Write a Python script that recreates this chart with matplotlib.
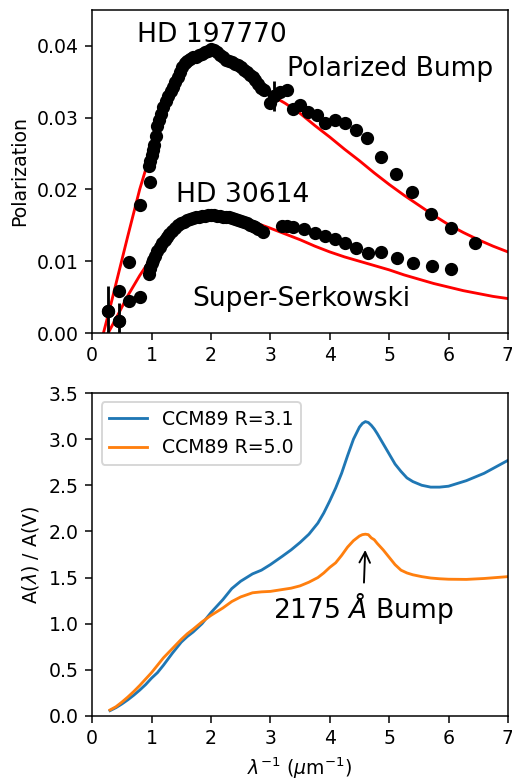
import numpy as np
import matplotlib.pyplot as plt

# HD 197770 polarization (1/lambda in um^-1, fractional polarization)
x_hd197 = [0.26, 0.45, 0.62, 0.80, 0.98,
           0.95, 0.98, 1.00, 1.02, 1.04, 1.07, 1.10, 1.13, 1.16, 1.20, 1.24, 1.28,
           1.32, 1.36, 1.40, 1.44, 1.48, 1.52, 1.56, 1.60, 1.65, 1.70, 1.75, 1.80,
           1.85, 1.90, 1.95, 2.00, 2.05, 2.10, 2.15, 2.20, 2.25, 2.30, 2.35, 2.40,
           2.45, 2.50, 2.55, 2.60, 2.65, 2.70, 2.75, 2.80, 2.85, 2.90,
           3.00, 3.07, 3.17, 3.28, 3.39, 3.50, 3.64, 3.78, 3.92, 4.09, 4.26, 4.44,
           4.63, 4.87, 5.11, 5.39, 5.70, 6.05, 6.45]
p_hd197 = [0.0030, 0.0058, 0.0099, 0.0178, 0.0211,
           0.0232, 0.0240, 0.0248, 0.0255, 0.0262, 0.0275, 0.0288, 0.0297, 0.0305,
           0.0315, 0.0323, 0.0330, 0.0337, 0.0343, 0.0350, 0.0357, 0.0364, 0.0371,
           0.0376, 0.0379, 0.0382, 0.0384, 0.0385, 0.0387, 0.0389, 0.0391, 0.0393,
           0.0396, 0.0394, 0.0391, 0.0387, 0.0384, 0.0381, 0.0379, 0.0377, 0.0375,
           0.0373, 0.0370, 0.0367, 0.0364, 0.0360, 0.0356, 0.0352, 0.0347, 0.0342,
           0.0339,
           0.0320, 0.0330, 0.0336, 0.0339, 0.0312, 0.0318, 0.0308, 0.0304, 0.0292,
           0.0297, 0.0292, 0.0283, 0.0271, 0.0245, 0.0222, 0.0196, 0.0166, 0.0146,
           0.0125]

# HD 30614 polarization
x_hd306 = [0.45, 0.62, 0.80, 0.95, 0.97, 1.00, 1.03, 1.06, 1.10, 1.14, 1.18, 1.22,
           1.26, 1.30, 1.35, 1.40, 1.45, 1.50, 1.55, 1.60, 1.65, 1.70, 1.75, 1.80,
           1.85, 1.90, 1.95, 2.00, 2.05, 2.10, 2.15, 2.20, 2.25, 2.30, 2.35, 2.40,
           2.45, 2.50, 2.55, 2.60, 2.65, 2.70, 2.75, 2.80, 2.87,
           3.20, 3.28, 3.39, 3.56, 3.75, 3.92, 4.09, 4.26, 4.45, 4.65, 4.87, 5.13,
           5.41, 5.72, 6.05]
p_hd306 = [0.0017, 0.0044, 0.0050, 0.0082, 0.0090, 0.0097, 0.0102, 0.0107, 0.0114,
           0.0120, 0.0125, 0.0130, 0.0134, 0.0138, 0.0142, 0.0146, 0.0150, 0.0153,
           0.0155, 0.0157, 0.0159, 0.0160, 0.0161, 0.0162, 0.0163, 0.0163, 0.0164,
           0.0164, 0.0164, 0.0163, 0.0163, 0.0162, 0.0162, 0.0161, 0.0160, 0.0159,
           0.0158, 0.0156, 0.0155, 0.0153, 0.0151, 0.0149, 0.0147, 0.0145, 0.0141,
           0.0149, 0.0149, 0.0148, 0.0145, 0.0139, 0.0135, 0.0131, 0.0125, 0.0119,
           0.0112, 0.0113, 0.0105, 0.0098, 0.0093, 0.0089]

# points with visible error bars
ex_hd197 = [0.26, 3.07]
ep_hd197 = [0.0030, 0.0330]
ee_hd197 = [0.0035, 0.0021]
ex_hd306 = [0.45, 0.97]
ep_hd306 = [0.0017, 0.0090]
ee_hd306 = [0.0025, 0.0013]

# fitted Serkowski curves
x_fit197 = [0.19, 0.30, 0.45, 0.60, 0.80, 1.00, 1.20, 1.40, 1.60, 1.80, 2.00, 2.20,
            2.50, 2.80, 3.00, 3.25, 3.50, 3.75, 4.00, 4.25, 4.50, 4.75, 5.00, 5.25,
            5.50, 5.75, 6.00, 6.25, 6.50, 6.75, 7.00]
p_fit197 = [0.0, 0.0035, 0.0085, 0.0135, 0.0200, 0.0255, 0.0310, 0.0350, 0.0377,
            0.0391, 0.0395, 0.0390, 0.0372, 0.0350, 0.0332, 0.0320, 0.0306, 0.0289,
            0.0273, 0.0256, 0.0240, 0.0223, 0.0207, 0.0192, 0.0178, 0.0164, 0.0151,
            0.0140, 0.0130, 0.0121, 0.0113]
x_fit306 = [0.27, 0.45, 0.60, 0.80, 1.00, 1.20, 1.40, 1.60, 1.80, 2.00, 2.20, 2.50,
            2.80, 3.00, 3.25, 3.50, 3.75, 4.00, 4.25, 4.50, 4.75, 5.00, 5.25, 5.50,
            5.75, 6.00, 6.25, 6.50, 6.75, 7.00]
p_fit306 = [0.0, 0.0028, 0.0052, 0.0080, 0.0105, 0.0128, 0.0145, 0.0156, 0.0162,
            0.0164, 0.0162, 0.0158, 0.0152, 0.0146, 0.0138, 0.0130, 0.0121, 0.0113,
            0.0106, 0.0100, 0.0094, 0.0088, 0.0081, 0.0075, 0.0069, 0.0064, 0.0059,
            0.0055, 0.0051, 0.0048]

# CCM89 extinction curves
x_ccm = [0.3, 0.4, 0.5, 0.6, 0.7, 0.8, 0.9, 1.0, 1.1, 1.2, 1.35, 1.5, 1.6, 1.7,
         1.85, 2.0, 2.2, 2.35, 2.5, 2.7, 2.85, 3.0, 3.2, 3.35, 3.5, 3.65, 3.8, 3.9,
         4.0, 4.1, 4.2, 4.3, 4.4, 4.5, 4.55, 4.6, 4.65, 4.7, 4.75, 4.8, 4.9, 5.0,
         5.1, 5.2, 5.3, 5.4, 5.55, 5.7, 5.85, 6.0, 6.3, 6.6, 7.0]
ext_r31 = [0.058, 0.09, 0.13, 0.175, 0.225, 0.28, 0.34, 0.41, 0.47, 0.55, 0.68,
           0.80, 0.86, 0.91, 1.00, 1.12, 1.26, 1.38, 1.46, 1.54, 1.58, 1.64, 1.73,
           1.80, 1.88, 1.97, 2.09, 2.20, 2.33, 2.47, 2.63, 2.82, 3.00, 3.13, 3.17,
           3.19, 3.18, 3.15, 3.11, 3.06, 2.95, 2.84, 2.73, 2.65, 2.58, 2.54, 2.50,
           2.48, 2.48, 2.49, 2.55, 2.63, 2.77]
ext_r50 = [0.065, 0.10, 0.15, 0.205, 0.265, 0.33, 0.40, 0.47, 0.55, 0.63, 0.73,
           0.83, 0.89, 0.94, 1.02, 1.09, 1.17, 1.24, 1.29, 1.335, 1.345, 1.35, 1.37,
           1.385, 1.41, 1.45, 1.50, 1.55, 1.61, 1.66, 1.74, 1.83, 1.90, 1.95, 1.965,
           1.97, 1.965, 1.93, 1.91, 1.87, 1.80, 1.72, 1.64, 1.58, 1.55, 1.53, 1.51,
           1.495, 1.487, 1.482, 1.48, 1.49, 1.51]

fig = plt.figure(figsize=(512 / 136, 779 / 136), dpi=136)
ax1 = fig.add_axes([0.18, 0.5725, 0.812, 0.4147])
ax2 = fig.add_axes([0.18, 0.0809, 0.812, 0.4146])

# top panel: polarization
ax1.plot(x_fit197, p_fit197, color='red')
ax1.plot(x_fit306, p_fit306, color='red')
ax1.errorbar(ex_hd197, ep_hd197, yerr=ee_hd197, fmt='o', color='black')
ax1.errorbar(ex_hd306, ep_hd306, yerr=ee_hd306, fmt='o', color='black')
ax1.plot(x_hd197, p_hd197, 'o', color='black')
ax1.plot(x_hd306, p_hd306, 'o', color='black')
ax1.text(0.76, 0.0406, 'HD 197770', fontsize=14)
ax1.text(3.28, 0.0358, 'Polarized Bump', fontsize=14)
ax1.text(1.41, 0.0182, 'HD 30614', fontsize=14)
ax1.text(1.68, 0.0038, 'Super-Serkowski', fontsize=14)
ax1.set_xlim(0, 7)
ax1.set_ylim(0, 0.045)
ax1.set_yticks([0.0, 0.01, 0.02, 0.03, 0.04])
ax1.set_ylabel('Polarization')

# bottom panel: extinction
ax2.plot(x_ccm, ext_r31, label='CCM89 R=3.1')
ax2.plot(x_ccm, ext_r50, label='CCM89 R=5.0')
ax2.annotate('2175 $\\AA$ Bump', xy=(4.6, 1.84), xytext=(4.56, 1.06),
             ha='center', va='baseline', fontsize=14,
             arrowprops=dict(arrowstyle='->', color='black'))
ax2.set_xlim(0, 7)
ax2.set_ylim(0, 3.5)
ax2.set_xlabel('$\\lambda^{-1}$ ($\\mu$m$^{-1}$)')
ax2.set_ylabel('A($\\lambda$) / A(V)')
ax2.legend(loc='upper left')

fig.savefig('out.png', dpi=136)
